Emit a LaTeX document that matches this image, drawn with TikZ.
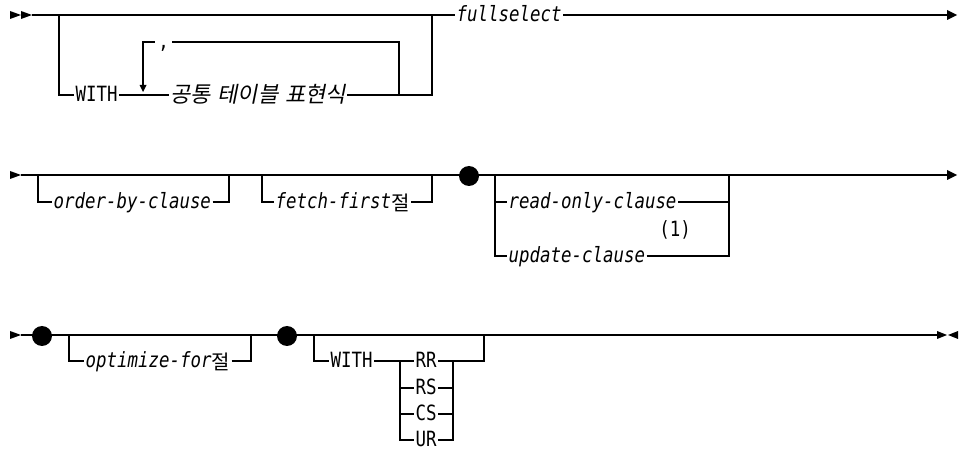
\documentclass[tikz,border=0pt]{standalone}
\usepackage{fontspec}
\setmainfont{DejaVu Sans Mono}[FakeStretch=0.83]
\newfontfamily\korfont{Noto Sans CJK KR}
\newfontfamily\korslant[FakeSlant=0.2]{Noto Sans CJK KR}
\newcommand\korjeol{\raisebox{-1.5pt}{\korfont\fontsize{15pt}{15pt}\selectfont 절}}
\newcommand\korgap{\hspace{5pt}}
\begin{document}
\begin{tikzpicture}[x=0.75pt,y=-0.75pt,
  rline/.style={line width=0.8pt, draw=black, line join=miter},
  kw/.style={font=\fontsize{15.75pt}{17pt}\selectfont, inner xsep=1pt, inner ysep=0pt, text height=10pt, text depth=0pt},
  itl/.style={kw, font=\fontsize{15.75pt}{17pt}\selectfont\itshape},
  korl/.style={inner xsep=1pt, inner ysep=0pt, text height=11.6pt, text depth=0pt, font=\korslant\fontsize{16.5pt}{17pt}\selectfont},
  dotm/.style={fill=black, draw=none},
  tip/.style={fill=black, draw=none}]
\useasboundingbox (0,0) rectangle (965,449);

% ---------- Row 1 ----------
\fill[tip] (10,11) -- (21,15) -- (10,19) -- cycle;
\fill[tip] (21,11) -- (32,15) -- (21,19) -- cycle;
\node[itl, anchor=west] (fullsel) at (455,15) {fullselect};
\node[kw, anchor=west] (with1) at (74,95) {WITH};
\node[korl, anchor=west] (kor) at (169,95) {공통\korgap 테이블\korgap 표현식};
\node[kw, inner xsep=2.5pt] (comma) at (163.5,42) {,};
\coordinate (loopend) at (143,85);
\draw[rline] (32,15) -- (fullsel.west);
\draw[rline] (fullsel.east) -- (947,15);
\fill[tip] (947,10) -- (957,15) -- (947,20) -- cycle;
\draw[rline] (59,15) -- (59,95) -- (with1.west);
\draw[rline] (with1.east) -- (kor.west);
\draw[rline] (kor.east) -- (432,95) -- (432,15);
\draw[rline] (399,95) -- (399,42) -- (comma.east);
\draw[rline] (comma.west) -- (143,42) -- (loopend);
\fill[tip] (139.5,85) -- (146.5,85) -- (143,92) -- cycle;

% ---------- Row 2 ----------
\fill[tip] (10,171) -- (21,175) -- (10,179) -- cycle;
\draw[rline] (21,175) -- (947,175);
\fill[tip] (947,170) -- (957,175) -- (947,180) -- cycle;
\node[itl, anchor=west] (ob) at (52,202) {order-by-clause};
\node[itl, anchor=west] (ff) at (274,202) {fetch-first\korjeol};
\node[itl, anchor=west] (ro) at (507,202) {read-only-clause};
\node[itl, anchor=west] (uc) at (507,256) {update-clause};
\node[kw] (note1) at (675,230) {(1)};
\draw[rline] (38,175) -- (38,202) -- (ob.west);
\draw[rline] (ob.east) -- (229,202) -- (229,175);
\draw[rline] (262,175) -- (262,202) -- (ff.west);
\draw[rline] (ff.east) -- (432,202) -- (432,175);
\draw[rline] (495,175) -- (495,256) -- (uc.west);
\draw[rline] (495,202) -- (ro.west);
\draw[rline] (ro.east) -- (729,202);
\draw[rline] (uc.east) -- (729,256) -- (729,175);
\fill[dotm] (469,176) circle (10);

% ---------- Row 3 ----------
\fill[tip] (10,331) -- (21,335) -- (10,339) -- cycle;
\draw[rline] (21,335) -- (937,335);
\fill[tip] (937,331) -- (947,335) -- (937,339) -- cycle;
\fill[tip] (958,331) -- (948,335) -- (958,339) -- cycle;
\fill[dotm] (42,336) circle (10);
\fill[dotm] (287,336) circle (10);
\node[itl, anchor=west] (opt) at (84,361) {optimize-for\korjeol};
\node[kw, anchor=west] (with2) at (329,361) {WITH};
\node[kw, anchor=west] (nRR) at (414,361) {RR};
\node[kw, anchor=west] (nRS) at (414,388) {RS};
\node[kw, anchor=west] (nCS) at (414,414) {CS};
\node[kw, anchor=west] (nUR) at (414,440) {UR};
\draw[rline] (69,335) -- (69,361) -- (opt.west);
\draw[rline] (opt.east) -- (251,361) -- (251,335);
\draw[rline] (314,335) -- (314,361) -- (with2.west);
\draw[rline] (with2.east) -- (nRR.west);
\draw[rline] (400,361) -- (400,440) -- (nUR.west);
\draw[rline] (400,388) -- (nRS.west);
\draw[rline] (400,414) -- (nCS.west);
\draw[rline] (nRR.east) -- (484,361) -- (484,335);
\draw[rline] (nRS.east) -- (453,388);
\draw[rline] (nCS.east) -- (453,414);
\draw[rline] (nUR.east) -- (453,440) -- (453,361);
\draw[line width=1.4pt] (490,334.5) -- (510,334.5);
\end{tikzpicture}
\end{document}
